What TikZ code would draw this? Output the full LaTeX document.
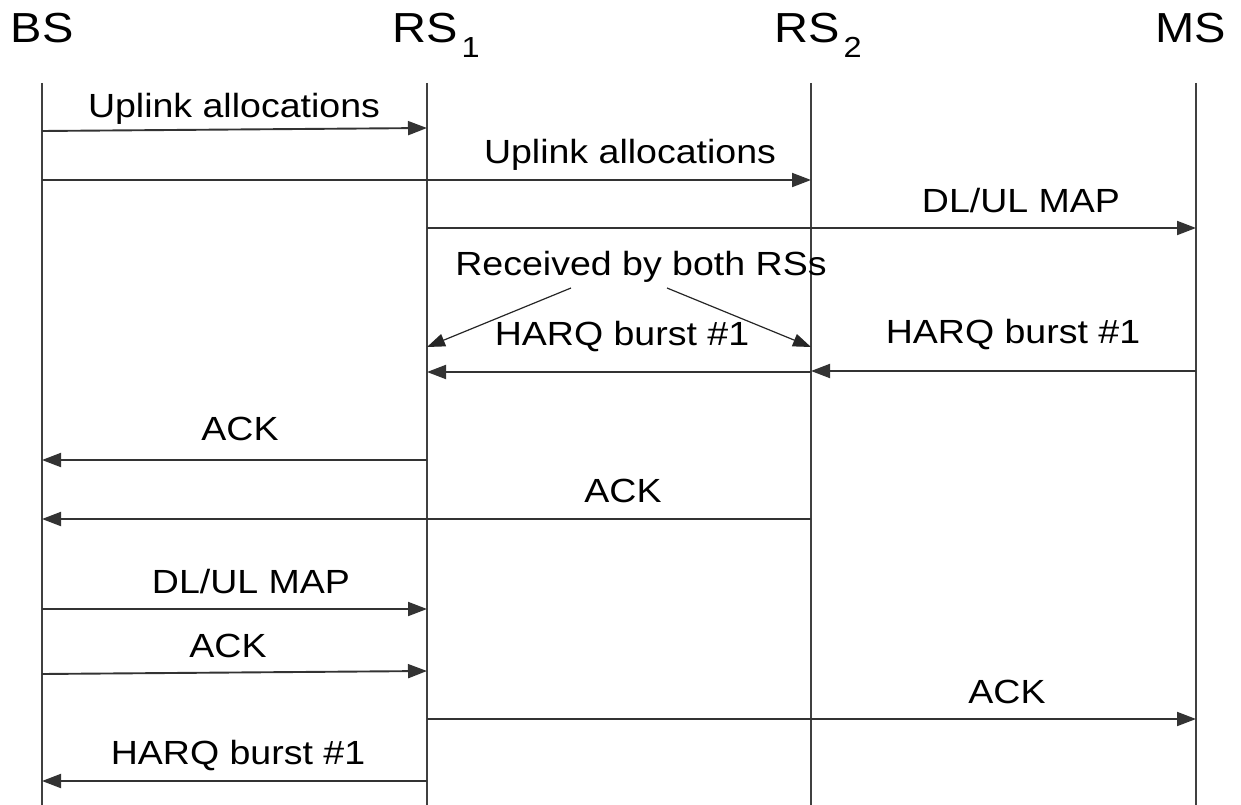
\documentclass[tikz,border=0pt]{standalone}
\usepackage{fontspec}
\setmainfont{Liberation Sans}[FakeStretch=1.12]
\usetikzlibrary{arrows.meta}
\begin{document}
\begin{tikzpicture}[x=1bp,y=-1bp,
  lifeline/.style={draw=black!75,line width=1.4bp},
  msg/.style={draw=black!80,line width=1.9bp,-{Triangle[length=19bp,width=14bp]}},
  notearrow/.style={draw=black!85,line width=1.2bp,-{Triangle[length=18bp,width=13bp]}},
  lbl/.style={anchor=base,inner sep=0pt,font=\fontsize{33.5bp}{40bp}\selectfont},
  hdr/.style={anchor=base,inner sep=0pt,font=\fontsize{42bp}{48bp}\selectfont},
  hdrl/.style={hdr,anchor=base west}]
\useasboundingbox (0,0) rectangle (1241,805);
% headers
\node[hdr] (bs) at (42,43) {BS};
\node[hdrl] (rs1) at (392,43) {RS\hspace{4bp}{\fontsize{29bp}{32bp}\selectfont\raisebox{-15bp}{1}}};
\node[hdrl] (rs2) at (774,43) {RS\hspace{4bp}{\fontsize{29bp}{32bp}\selectfont\raisebox{-15bp}{2}}};
\node[hdr] (ms) at (1191,43) {MS};
% lifelines
\coordinate (bsL) at (42,83);   \coordinate (bsB) at (42,805);
\coordinate (rs1L) at (427,83); \coordinate (rs1B) at (427,805);
\coordinate (rs2L) at (811,83); \coordinate (rs2B) at (811,805);
\coordinate (msL) at (1196,83); \coordinate (msB) at (1196,805);
\draw[lifeline] (bsL) -- (bsB);
\draw[lifeline] (rs1L) -- (rs1B);
\draw[lifeline] (rs2L) -- (rs2B);
\draw[lifeline] (msL) -- (msB);
% messages
\node[lbl] (l1) at (234,118) {Uplink allocations};
\draw[msg] (bsL |- 0,131) -- (rs1L |- 0,128);
\node[lbl] (l2) at (630,163) {Uplink allocations};
\draw[msg] (bsL |- 0,180) -- (rs2L |- 0,180);
\node[lbl] (l3) at (1021,212) {DL/UL MAP};
\draw[msg] (rs1L |- 0,228) -- (msL |- 0,228);
\node[lbl] (l4) at (641,275) {Received by both RSs};
\coordinate (n1) at (571,288);
\coordinate (n2) at (667,288);
\draw[notearrow] (n1) -- (rs1L |- 0,347);
\draw[notearrow] (n2) -- (rs2L |- 0,347);
\node[lbl] (l5) at (622,345) {HARQ burst \#1};
\draw[msg] (rs2L |- 0,372) -- (rs1L |- 0,372);
\node[lbl] (l6) at (1013,343) {HARQ burst \#1};
\draw[msg] (msL |- 0,371) -- (rs2L |- 0,371);
\node[lbl] (l7) at (240,440) {ACK};
\draw[msg] (rs1L |- 0,460) -- (bsL |- 0,460);
\node[lbl] (l8) at (623,502) {ACK};
\draw[msg] (rs2L |- 0,519) -- (bsL |- 0,519);
\node[lbl] (l9) at (251,593) {DL/UL MAP};
\draw[msg] (bsL |- 0,609) -- (rs1L |- 0,609);
\node[lbl] (l10) at (228,657) {ACK};
\draw[msg] (bsL |- 0,674) -- (rs1L |- 0,671);
\node[lbl] (l11) at (1007,703) {ACK};
\draw[msg] (rs1L |- 0,719) -- (msL |- 0,719);
\node[lbl] (l12) at (238,764) {HARQ burst \#1};
\draw[msg] (rs1L |- 0,781) -- (bsL |- 0,781);
\end{tikzpicture}
\end{document}
